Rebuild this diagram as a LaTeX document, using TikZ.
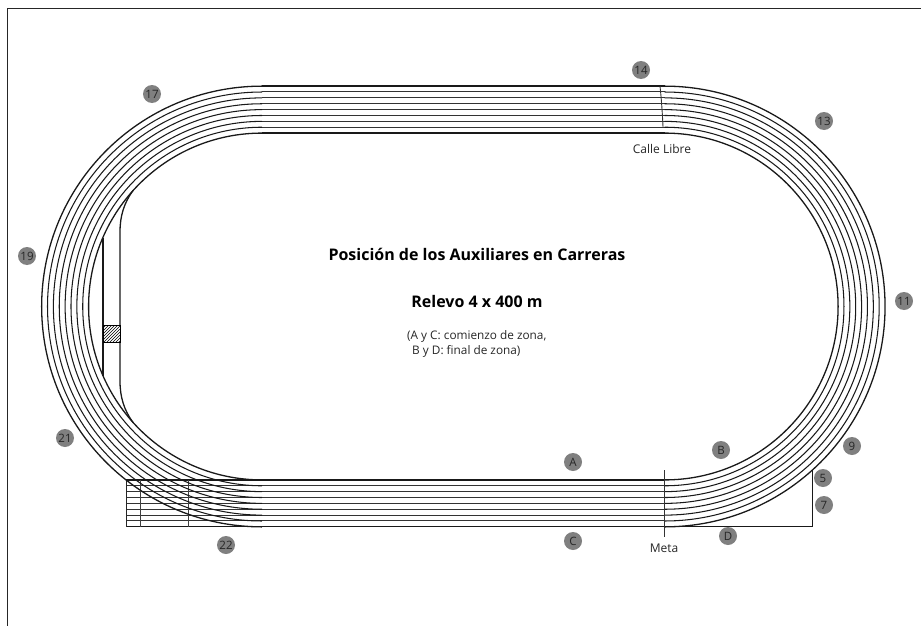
\documentclass[tikz,border=0pt]{standalone}
\usepackage{fontspec}
\setmainfont{Open Sans}
\usetikzlibrary{patterns}
\tikzset{
  rim/.style={line width=1.3pt,black!90},
  lane/.style={line width=1pt,black!80},
  thinline/.style={line width=0.8pt,black!75},
  marker/.style={circle,fill=black!50,minimum size=18pt,inner sep=0pt,font=\fontsize{11.5}{12}\selectfont,text=black!85},
  lab/.style={font=\fontsize{12}{14}\selectfont,text=black!85,inner sep=0pt}
}
\begin{document}
\begin{tikzpicture}[x=1pt,y=-1pt]
\useasboundingbox (0,0) rectangle (921,626);
% frame
\draw[line width=1pt,black!85] (7.5,626) -- (7.5,8.5) -- (921,8.5);
% straight lanes
\foreach \k in {1,...,7}{
  \pgfmathsetmacro{\yt}{86+\k*5.87}
  \pgfmathsetmacro{\yb}{480+\k*5.85}
  \draw[lane] (262,\yt) -- (664.7,\yt);
  \draw[lane] (126,\yb) -- (664.7,\yb);
}
\draw[rim] (262,86) -- (664.7,86);
\draw[rim] (262,133.1) -- (664.7,133.1);
\draw[rim] (126,480) -- (664.7,480);
\draw[rim] (126,526.8) -- (812.5,526.8) -- (812.5,470);
\draw[line width=1pt,black!85] (126,480) -- (126,526.8);
\draw[thinline] (140,480) -- (140,526.8);
\draw[thinline] (188,480) -- (188,526.8);
% bends
\foreach \k in {0,...,8}{
  \pgfmathsetmacro{\r}{173.4+\k*5.87}
  \pgfmathsetmacro{\w}{(\k==0||\k==8)?1.3:1.05}
  \draw[line width=\w pt,black!90] (664.7,306.5-\r) arc[start angle=-90,end angle=90,radius=\r];
  \draw[line width=\w pt,black!90] (262,306.5+\r) arc[start angle=90,end angle=270,radius=\r];
}
% infield edge on the west side
\draw[rim] (133,190.5) .. controls (124,203) and (120,216) .. (120,232) -- (120,381) .. controls (120,397) and (124,410) .. (133,422.5);
\draw[rim] (103,237.5) -- (103,375.5);
\fill[white] (103,325) rectangle (120,342.5);
\draw[pattern=north east lines,line width=0.9pt] (103,325) rectangle (120,342.5);
% meta and free lane lines
\draw[line width=0.9pt,black!80] (664,470) -- (664,537);
\draw[line width=0.9pt,black!80] (660,86) .. controls (661.5,100) and (662.5,115) .. (663,127);
% texts
\node[lab] (calle) at (662,149) {Calle Libre};
\node[lab] (meta) at (664,548) {Meta};
\node[inner sep=0pt,font=\fontsize{16}{18}\selectfont\bfseries] (title) at (477,254) {Posición de los Auxiliares en Carreras};
\node[inner sep=0pt,font=\fontsize{16}{18}\selectfont\bfseries] (relevo) at (477,301) {Relevo 4 x 400 m};
\node[lab,anchor=west,font=\fontsize{11.8}{14}\selectfont] (note1) at (407,336) {(A y C: comienzo de zona,};
\node[lab,anchor=west,font=\fontsize{11.8}{14}\selectfont] (note2) at (412,351) {B y D: final de zona)};
% markers
\node[marker] (m14) at (641,70) {14};
\node[marker] (m17) at (152,94) {17};
\node[marker] (m13) at (824,121) {13};
\node[marker] (m19) at (27,256) {19};
\node[marker] (m11) at (904,301) {11};
\node[marker] (m9) at (852,446) {9};
\node[marker] (m5) at (823,478) {5};
\node[marker] (m7) at (824,505) {7};
\node[marker] (m21) at (65,438) {21};
\node[marker] (m22) at (226,545) {22};
\node[marker] (mA) at (573,462) {A};
\node[marker] (mB) at (721,450) {B};
\node[marker] (mC) at (573,541) {C};
\node[marker] (mD) at (728,536) {D};
\end{tikzpicture}
\end{document}
